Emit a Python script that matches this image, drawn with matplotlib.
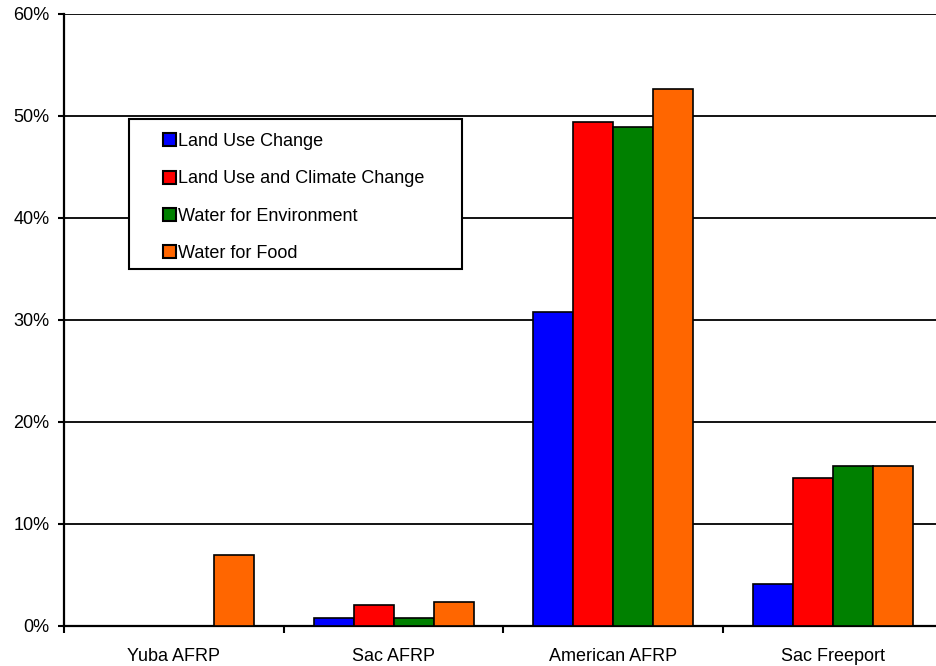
import numpy as np
import matplotlib.pyplot as plt
from matplotlib.patches import Rectangle

plt.rcParams['font.family'] = ['Liberation Sans', 'DejaVu Sans']

sites = ['Yuba AFRP', 'Sac AFRP', 'American AFRP', 'Sac Freeport']
series = ['Land Use Change', 'Land Use and Climate Change',
          'Water for Environment', 'Water for Food']
land_use = [0.0, 0.8, 30.8, 4.1]
land_climate = [0.0, 2.0, 49.4, 14.5]
water_env = [0.0, 0.8, 48.9, 15.7]
water_food = [6.9, 2.3, 52.6, 15.7]
colors = ['#0000ff', '#ff0000', '#008000', '#ff6600']

fig = plt.figure(figsize=(9.37, 6.66), dpi=100)
ax = fig.add_axes([64/937, 1 - 625.7/666, 879/937, 611.7/666])

x = np.arange(len(sites))
w = 0.182
for i, (vals, lab) in enumerate(zip([land_use, land_climate, water_env, water_food], series)):
    ax.bar(x + (i - 1.5)*w, vals, w, color=colors[i], edgecolor='black',
           linewidth=1.2, label=lab, zorder=3)

ax.set_xlim(-0.5, 3.5)
ax.set_ylim(0, 60)
ax.set_yticks(np.arange(0, 61, 10))
ax.set_yticklabels([f'{v}%' for v in range(0, 61, 10)])
ax.yaxis.grid(True, color='black', linewidth=1.3, zorder=0)
ax.set_xticks(x)
ax.set_xticklabels(sites)
ax.set_xticks(np.arange(-0.5, 4, 1), minor=True)
ax.tick_params(axis='x', which='major', length=0, pad=16, labelsize=13)
ax.tick_params(axis='x', which='minor', length=5, width=1.5, direction='out')
ax.tick_params(axis='y', length=4.5, width=1.5, pad=6, labelsize=13)
for s in ['top', 'right']:
    ax.spines[s].set_visible(False)
for s in ['left', 'bottom']:
    ax.spines[s].set_linewidth(1.6)
ax.set_axisbelow(True)

leg = fig.legend(loc='center left', bbox_to_anchor=(163/937, 1 - 197.5/666),
                 bbox_transform=fig.transFigure, frameon=False, fontsize=13,
                 handlelength=0.72, handleheight=0.72, handletextpad=0.1,
                 labelspacing=1.12, borderpad=0, borderaxespad=0)
for h in leg.legend_handles:
    h.set_linewidth(1.5)
fig.patches.append(Rectangle((129/937, 1 - 269/666), 333/937, 150/666,
                             transform=fig.transFigure, facecolor='white',
                             edgecolor='black', linewidth=1.5, zorder=4))
leg.set_zorder(5)

fig.savefig('out.png', dpi=100)
